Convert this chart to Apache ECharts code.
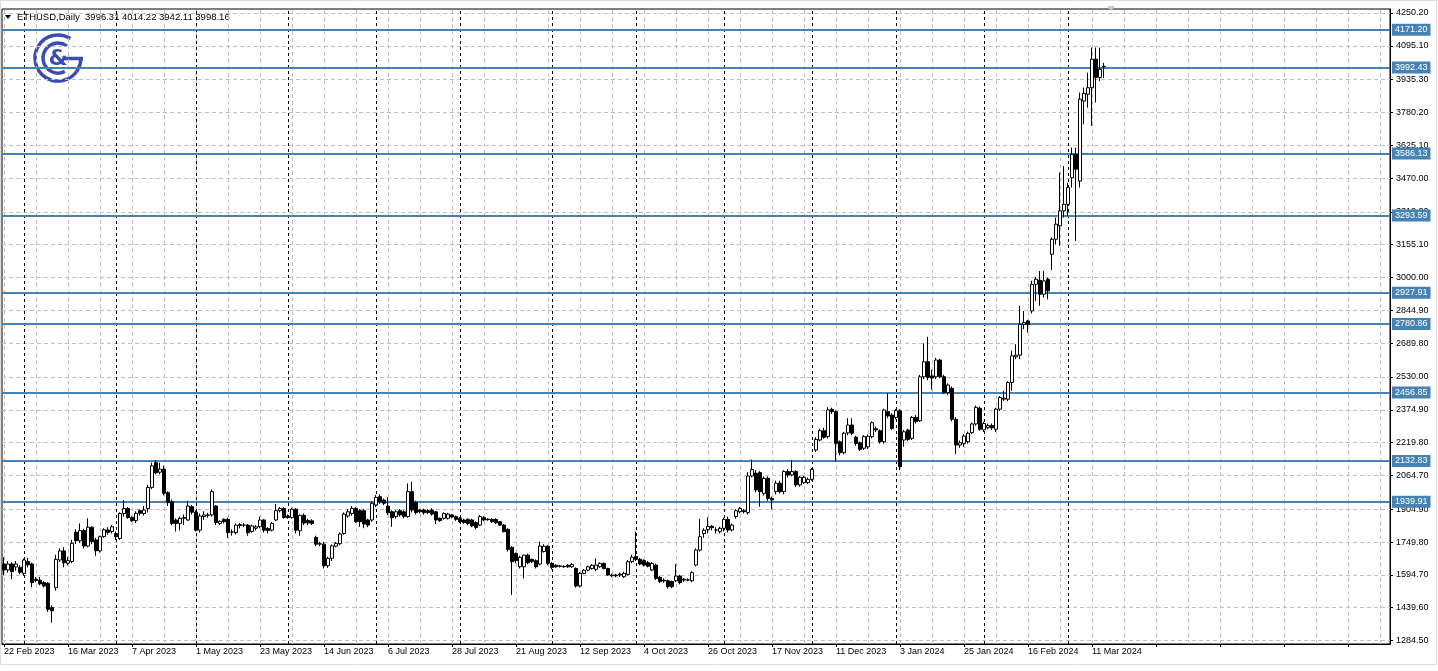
<!DOCTYPE html>
<html><head><meta charset="utf-8">
<script src="https://cdn.jsdelivr.net/npm/echarts@6/dist/echarts.min.js"></script>
<style>html,body{margin:0;padding:0;background:#fff;}#chart{width:1438px;height:671px;}</style>
</head><body><div id="chart"></div>
<script>
// ---------------- DATA ----------------
const SYMBOL = 'ETHUSD,Daily';
const LAST_BAR = [3996.31, 4014.22, 3942.11, 3998.16]; // O H L C shown in header
const FIRST_DATE = '2023-02-22';
const SKIP_DATES = ['2024-01-01'];
const TOTAL_SLOTS = 347;
const TICK_LABELS = ['22 Feb 2023','16 Mar 2023','7 Apr 2023','1 May 2023','23 May 2023','14 Jun 2023','6 Jul 2023','28 Jul 2023','21 Aug 2023','12 Sep 2023','4 Oct 2023','26 Oct 2023','17 Nov 2023','11 Dec 2023','3 Jan 2024','25 Jan 2024','16 Feb 2024','11 Mar 2024'];
const Y_TICKS = [4250.20,4095.10,3935.30,3780.20,3625.10,3470.00,3310.20,3155.10,3000.00,2844.90,2689.80,2530.00,2374.90,2219.80,2064.70,1904.90,1749.80,1594.70,1439.60,1284.50];
const LEVELS = [4171.20,3992.43,3586.13,3293.59,2927.91,2780.86,2456.85,2132.83,1939.91];

const OPEN = [
1646,1618,1646,1632,1630,1602,1658,1646,1574,1570,
1558,1555,1440,1534,1665,1708,1650,1658,1796,1756,
1804,1731,1820,1760,1708,1775,1807,1800,1790,1767,
1885,1908,1866,1851,1898,1885,1908,2008,2125,2080,
2094,1983,1940,1854,1838,1862,1854,1917,1891,1806,
1870,1876,1878,1920,1838,1857,1857,1797,1794,1828,
1830,1830,1800,1815,1822,1854,1814,1806,1854,1898,
1908,1872,1866,1905,1803,1876,1852,1850,1772,1740,
1740,1638,1673,1730,1742,1790,1873,1885,1909,1898,
1898,1854,1854,1925,1964,1948,1920,1893,1870,1898,
1893,1870,1988,1938,1901,1901,1898,1901,1893,1862,
1862,1862,1878,1870,1862,1854,1857,1854,1842,1830,
1865,1858,1857,1857,1846,1830,1810,1725,1696,1633,
1633,1688,1668,1662,1646,1705,1730,1649,1640,1637,
1635,1640,1633,1625,1542,1602,1617,1625,1621,1633,
1649,1625,1594,1594,1598,1586,1597,1657,1681,1668,
1662,1652,1618,1641,1583,1570,1567,1563,1567,1589,
1574,1571,1567,1641,1712,1790,1808,1824,1807,1799,
1815,1857,1807,1870,1893,1898,1889,2062,2075,2078,
1980,2051,1956,1988,2028,1988,2083,2067,2083,2020,
2030,2030,2046,2185,2232,2276,2248,2377,2366,2224,
2172,2266,2303,2245,2219,2193,2200,2248,2285,2276,
2224,2366,2350,2339,2370,2232,2279,2240,2339,2323,
2531,2602,2535,2531,2610,2531,2456,2476,2330,2208,
2216,2224,2267,2308,2382,2280,2290,2300,2283,2378,
2425,2425,2504,2625,2633,2779,2795,2842,2968,2987,
2921,2992,3110,3181,3244,3315,3346,3472,3582,3456,
3834,3866,3897,4032,3945,3996.31];
const CLOSE = [
1618,1646,1610,1646,1607,1665,1642,1558,1568,1552,
1542,1432,1425,1668,1708,1652,1662,1744,1756,1804,
1731,1820,1752,1709,1775,1808,1795,1822,1775,1885,
1908,1866,1851,1886,1886,1901,2008,2110,2077,2094,
1980,1936,1838,1838,1862,1866,1920,1891,1806,1873,
1878,1878,1988,1842,1848,1846,1794,1797,1830,1832,
1830,1794,1826,1822,1854,1806,1804,1838,1898,1908,
1866,1866,1905,1806,1876,1840,1840,1838,1740,1742,
1638,1673,1732,1744,1788,1882,1893,1909,1846,1846,
1835,1830,1933,1961,1940,1933,1888,1865,1893,1878,
1870,1988,1901,1889,1893,1889,1889,1882,1854,1851,
1885,1882,1868,1857,1846,1842,1838,1826,1819,1870,
1854,1856,1846,1841,1830,1799,1715,1657,1662,1678,
1688,1652,1657,1633,1731,1730,1649,1630,1633,1635,
1633,1633,1644,1542,1602,1617,1633,1640,1641,1649,
1625,1594,1590,1590,1594,1602,1657,1678,1668,1646,
1641,1636,1649,1578,1563,1566,1539,1539,1589,1558,
1570,1570,1605,1712,1775,1806,1824,1818,1807,1815,
1857,1807,1830,1898,1909,1894,2062,2093,1996,1988,
2051,1956,1949,2028,1988,2083,2067,2083,2020,2056,
2056,2046,2093,2235,2276,2245,2374,2366,2216,2172,
2264,2303,2264,2216,2188,2248,2250,2314,2280,2224,
2374,2346,2287,2371,2106,2271,2235,2339,2319,2531,
2602,2528,2525,2610,2531,2456,2492,2330,2208,2219,
2251,2264,2308,2386,2283,2310,2300,2290,2378,2433,
2430,2504,2630,2633,2779,2787,2779,2968,2992,2921,
2984,2937,3181,3252,3315,3346,3425,3582,3512,3843,
3870,3897,4032,3945,3984,3998.16];
const LOW = [
1594,1605,1574,1615,1598,1590,1630,1536,1560,1545,
1535,1420,1369,1520,1655,1630,1640,1650,1740,1745,
1720,1725,1740,1685,1700,1770,1785,1790,1760,1760,
1870,1860,1845,1840,1875,1875,1890,2000,2070,2070,
1970,1920,1830,1800,1805,1830,1850,1880,1800,1795,
1855,1865,1870,1830,1830,1838,1770,1780,1786,1815,
1820,1780,1794,1805,1815,1795,1790,1800,1850,1890,
1860,1860,1860,1790,1780,1830,1830,1830,1730,1730,
1625,1628,1660,1725,1735,1785,1865,1875,1840,1822,
1815,1820,1845,1915,1930,1925,1878,1822,1860,1870,
1862,1865,1890,1880,1885,1880,1882,1875,1835,1845,
1856,1856,1862,1850,1840,1836,1830,1820,1810,1825,
1848,1850,1840,1835,1825,1795,1705,1500,1650,1625,
1578,1645,1650,1625,1640,1700,1640,1620,1628,1630,
1628,1628,1628,1535,1535,1598,1612,1620,1612,1628,
1620,1590,1585,1583,1585,1580,1592,1650,1660,1640,
1635,1630,1612,1570,1556,1558,1530,1532,1560,1550,
1562,1565,1560,1635,1705,1770,1790,1805,1790,1790,
1800,1795,1800,1860,1885,1885,1880,2055,1985,1917,
1970,1945,1904,1975,1980,1975,2055,2060,2010,2012,
2025,2025,2040,2175,2225,2238,2240,2355,2130,2160,
2165,2255,2255,2205,2180,2185,2190,2240,2270,2215,
2215,2335,2280,2330,2090,2200,2228,2232,2310,2318,
2520,2515,2470,2520,2525,2450,2445,2320,2166,2195,
2200,2215,2260,2300,2275,2270,2282,2280,2270,2370,
2417,2415,2464,2614,2614,2756,2740,2830,2890,2866,
2906,2897,3035,3157,3150,3283,3291,3425,3173,3425,
3724,3803,3717,3827,3929,3942.11];
const HIGH = [
1678,1660,1655,1660,1640,1672,1675,1652,1585,1585,
1566,1560,1450,1690,1720,1725,1680,1760,1810,1838,
1812,1862,1825,1770,1780,1815,1820,1830,1800,1890,
1948,1915,1872,1895,1905,1920,2020,2125,2137,2125,
2110,1990,1950,1862,1870,1880,1945,1925,1900,1885,
1895,1888,1998,1925,1852,1862,1865,1810,1838,1840,
1840,1835,1832,1830,1870,1858,1820,1845,1930,1915,
1915,1880,1912,1910,1880,1885,1860,1858,1780,1750,
1750,1680,1738,1750,1795,1890,1905,1920,1915,1905,
1905,1860,1940,1972,1975,1955,1962,1900,1900,1905,
1900,2027,2035,1945,1905,1908,1905,1910,1898,1866,
1890,1888,1882,1875,1868,1860,1862,1860,1848,1878,
1872,1862,1862,1862,1850,1835,1815,1730,1700,1685,
1690,1695,1672,1668,1752,1740,1735,1655,1645,1642,
1640,1645,1650,1630,1608,1622,1638,1645,1672,1654,
1654,1628,1600,1600,1605,1610,1665,1690,1799,1675,
1668,1660,1655,1648,1590,1578,1572,1568,1646,1595,
1580,1578,1612,1720,1859,1815,1866,1830,1820,1822,
1865,1870,1838,1905,1915,1905,2080,2140,2090,2085,
2060,2060,1965,2040,2040,2090,2095,2138,2090,2062,
2062,2055,2100,2245,2285,2290,2387,2385,2372,2230,
2270,2335,2335,2252,2225,2255,2258,2320,2295,2282,
2380,2453,2358,2378,2378,2280,2285,2345,2350,2540,
2689,2720,2565,2620,2615,2540,2500,2485,2340,2230,
2260,2272,2315,2395,2390,2318,2310,2310,2385,2440,
2464,2510,2654,2685,2866,2842,2800,2985,3003,3031,
3031,3000,3190,3283,3496,3527,3448,3614,3614,3874,
3898,3968,4087,4087,4087,4014.22];

// ---------------- BUILD ----------------
function buildDates(n) {
  const out = [];
  const d = new Date(FIRST_DATE + 'T00:00:00Z');
  while (out.length < n) {
    const dow = d.getUTCDay();
    const iso = d.toISOString().slice(0, 10);
    if (dow !== 0 && dow !== 6 && SKIP_DATES.indexOf(iso) < 0) out.push(iso);
    d.setUTCDate(d.getUTCDate() + 1);
  }
  return out;
}
const DATES = buildDates(TOTAL_SLOTS);
const NBARS = OPEN.length;
const candles = OPEN.map((o, i) => [o, CLOSE[i], LOW[i], HIGH[i]]);

const FONT = 'Liberation Sans';
const GRID_GRAY = '#c0c0c0';
const LEVEL_BLUE = '#4682b4';

const mlData = [];
Y_TICKS.forEach(v => mlData.push({
  yAxis: v,
  lineStyle: {color: GRID_GRAY, type: [4, 3], width: 1},
  label: {show: true, position: 'end', distance: 6, formatter: v.toFixed(2), color: '#000', fontSize: 9, fontFamily: FONT}
}));
for (let i = 0; i < TOTAL_SLOTS; i += 8) {
  mlData.push({xAxis: DATES[i], lineStyle: {color: GRID_GRAY, type: [4, 3], width: 1}, label: {show: false}});
}
for (let i = 1; i < NBARS; i++) {
  if (DATES[i].slice(5, 7) !== DATES[i - 1].slice(5, 7)) {
    mlData.push({xAxis: DATES[i], lineStyle: {color: '#000', type: [3, 3], width: 1}, label: {show: false}});
  }
}
LEVELS.forEach(v => mlData.push({
  yAxis: v,
  lineStyle: {color: LEVEL_BLUE, type: 'solid', width: 2},
  label: {show: true, position: 'end', distance: 2, formatter: v.toFixed(2), color: '#fff',
          backgroundColor: LEVEL_BLUE, padding: [2, 3, 1, 3], fontSize: 9, fontFamily: FONT}
}));

const chart = echarts.init(document.getElementById('chart'), null, {renderer: 'canvas'});
const LOGO = '#3b4cb5';
chart.setOption({
  animation: false,
  backgroundColor: '#fff',
  grid: {left: 2, top: 9, width: 1388, height: 635, show: true, borderColor: '#000', borderWidth: 1, backgroundColor: '#fff'},
  xAxis: {
    type: 'category', data: DATES, boundaryGap: true,
    axisLine: {show: true, lineStyle: {color: '#000'}},
    axisTick: {show: true, interval: 15, alignWithLabel: true, length: 3, lineStyle: {color: '#000'}},
    axisLabel: {
      interval: 15, align: 'left', margin: 3, color: '#000', fontSize: 9, fontFamily: FONT,
      formatter: (val, idx) => (idx % 16 === 0 && idx / 16 < TICK_LABELS.length) ? TICK_LABELS[idx / 16] : ''
    },
    splitLine: {show: false}
  },
  yAxis: {
    type: 'value', position: 'right', min: 1268.0, max: 4269.1, scale: true,
    axisLine: {show: true, lineStyle: {color: '#000'}},
    axisTick: {show: true, length: 3, customValues: Y_TICKS, lineStyle: {color: '#000'}},
    axisLabel: {show: false},
    splitLine: {show: false}
  },
  series: [
    {
      type: 'line', data: [], z: 1, silent: true,
      markLine: {silent: true, symbol: ['none', 'none'], animation: false, precision: 2, data: mlData}
    },
    {
      type: 'candlestick', data: candles, z: 10, barWidth: 3, silent: true,
      itemStyle: {color: '#fff', color0: '#000', borderColor: '#000', borderColor0: '#000', borderWidth: 1}
    }
  ],
  graphic: [
    {type: 'rect', shape: {x: 0.5, y: 0.5, width: 1436, height: 664}, style: {fill: null, stroke: '#dcdcdc', lineWidth: 1}, silent: true},
    {type: 'polygon', shape: {points: [[5, 15], [11, 15], [8, 19]]}, style: {fill: '#000'}, silent: true},
    {type: 'text', x: 17, y: 17, style: {text: SYMBOL + '  ' + LAST_BAR.map(v => v.toFixed(2)).join(' '),
      fill: '#000', font: '9.5px "Liberation Sans"', verticalAlign: 'middle'}, silent: true},
    {type: 'polygon', shape: {points: [[1107, 6], [1115, 6], [1111, 11]]}, style: {fill: '#c8c8c8'}, silent: true},
    {type: 'group', x: 33, y: 33, silent: true, children: [
      {type: 'arc', shape: {cx: 25, cy: 25, r: 23, startAngle: -Math.PI * 0.32, endAngle: Math.PI * 0.02, clockwise: false},
       style: {stroke: LOGO, lineWidth: 3.5, fill: null}},
      {type: 'line', shape: {x1: 30, y1: 25.5, x2: 50, y2: 25.5}, style: {stroke: LOGO, lineWidth: 3.5}},
      {type: 'arc', shape: {cx: 25, cy: 25, r: 15, startAngle: -Math.PI * 0.3, endAngle: Math.PI * 0.35, clockwise: false},
       style: {stroke: LOGO, lineWidth: 3.5, fill: null}},
      {type: 'text', x: 25, y: 26, style: {text: '&', fill: LOGO, font: 'bold 22px "DejaVu Sans"', align: 'center', verticalAlign: 'middle'}}
    ]}
  ]
});
</script>
</body></html>
